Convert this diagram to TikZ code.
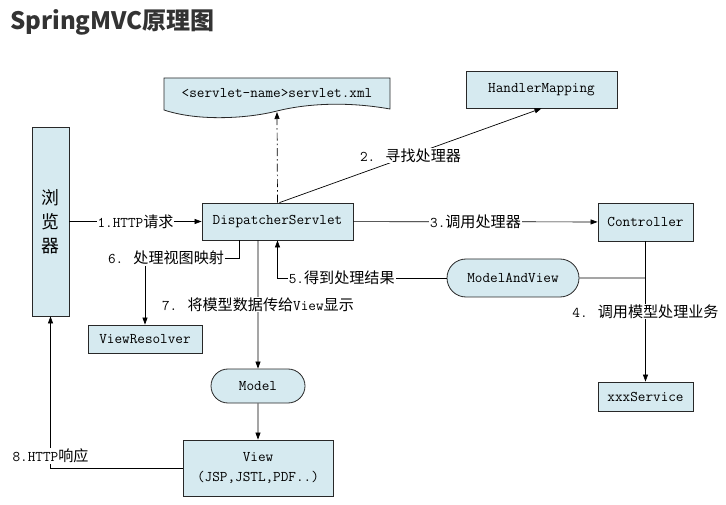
\documentclass[tikz,border=0pt]{standalone}
\usepackage{fontspec}
\usetikzlibrary{arrows.meta,shapes.misc}

\newfontfamily\cjk{Noto Sans CJK SC}[Scale=1.02]
\newfontfamily\titlefont{Noto Sans CJK SC}

\definecolor{boxblue}{RGB}{214,234,240}
\definecolor{linegray}{RGB}{40,40,40}
\definecolor{titlegray}{RGB}{51,51,51}

\newcommand\zh[1]{{\cjk#1}}
\newcommand\diafont{\ttfamily\fontsize{14.8}{20}\selectfont}

\tikzset{
  box/.style={draw=linegray, fill=boxblue, line width=.8pt, inner sep=0pt, font=\diafont},
  pill/.style={box, rounded rectangle},
  lbl/.style={fill=white, inner sep=1pt, font=\diafont},
  conn/.style={line width=.7pt},
  arr/.style={conn, -{Triangle[length=7pt,width=5pt]}},
}

\begin{document}
\begin{tikzpicture}[x=1pt,y=-1pt]
    \useasboundingbox (0,0) rectangle (726,505);

    %% title
    \node (title) at (10,22) [anchor=west, inner sep=0pt, text=titlegray,
        font=\titlefont\bfseries\fontsize{24}{26}\selectfont] {SpringMVC原理图};

    %% servlet.xml document
    \draw[fill=boxblue, draw=linegray, line width=.8pt] (164,78) -- (390,78) -- (390,109)
        .. controls (345,101) and (305,104) .. (277,111)
        .. controls (250,118) and (200,122) .. (164,110) -- cycle;
    \node (xml) at (277,93) [font=\diafont] {<servlet-name>servlet.xml};
    \coordinate (xmlb) at (277,112);

    %% boxes
    \node (browser) at (50.5,221.5) [box, minimum width=37, minimum height=189,
        align=center, font=\cjk\fontsize{17.5}{24}\selectfont] {浏\\览\\器};
    \node (disp)  at (277.5,221.5) [box, minimum width=151, minimum height=37] {DispatcherServlet};
    \node (hm)    at (541.5,89.5)  [box, minimum width=151, minimum height=37] {HandlerMapping};
    \node (ctrl)  at (645.5,222)   [box, minimum width=95, minimum height=38] {Controller};
    \node (mav)   at (513,278)     [pill, minimum width=132, minimum height=38] {ModelAndView};
    \node (vr)    at (145,339)     [box, minimum width=114, minimum height=28] {ViewResolver};
    \node (model) at (258,386)     [pill, minimum width=94, minimum height=34] {Model};
    \node (view)  at (258,468)     [box, minimum width=150, minimum height=56, align=center] {View\\(JSP,JSTL,PDF..)};
    \node (svc)   at (645.5,396.5) [box, minimum width=95, minimum height=29] {xxxService};

    %% connectors
    \draw[arr] (browser) -- node[lbl] {1.HTTP\zh{请求}} (disp);
    \draw[arr, dash pattern=on 8pt off 3pt on 1.5pt off 3pt] (disp.north) -- (xmlb);
    \draw[arr] ([xshift=2pt]disp.north) -- node[lbl] {2. \zh{寻找处理器}} (hm.south);
    \draw[arr] (disp) -- node[lbl] {3.\zh{调用处理器}} (ctrl);
    \draw[arr] (ctrl) -- node[lbl] {4. \zh{调用模型处理业务}} (svc);

    \draw[conn] (ctrl.south |- mav) -- (mav);
    \draw[arr] (mav) -| node[lbl, pos=.31] {5.\zh{得到处理结果}} (disp.south);

    \node (lbl6) at (166,258) [lbl] {6. \zh{处理视图映射}};
    \draw[conn] ([xshift=-38.5pt]disp.south) |- (lbl6.east);
    \draw[arr] (lbl6.south -| vr) -- (vr);

    \draw[arr] (disp.south -| model) -- node[lbl] {7. \zh{将模型数据传给}View\zh{显示}} (model);
    \draw[arr] (model) -- (view);
    \draw[arr] (view.west) -| node[lbl, pos=.54] {8.HTTP\zh{响应}} (browser.south);
\end{tikzpicture}
\end{document}
